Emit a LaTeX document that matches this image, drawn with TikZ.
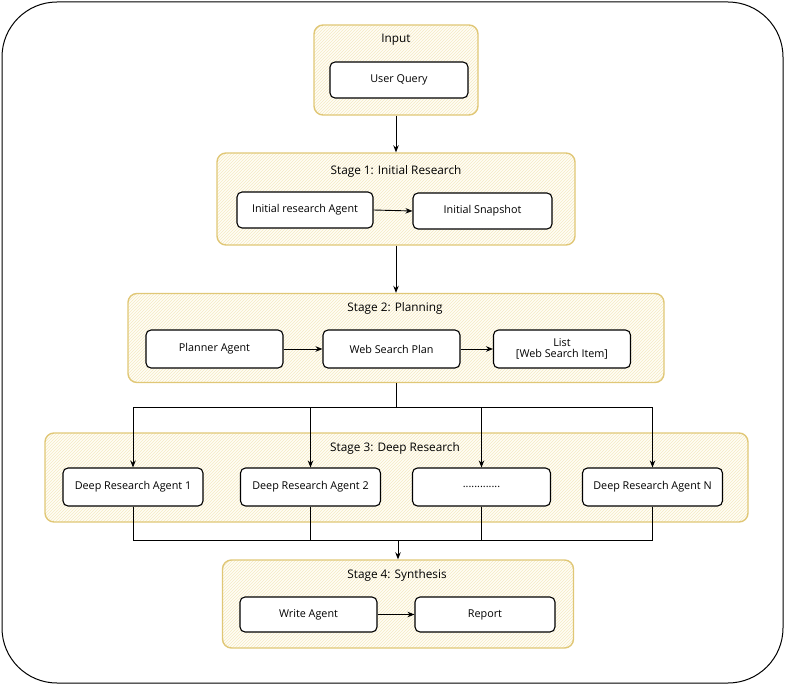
\documentclass[tikz,border=0pt]{standalone}
\usepackage{fontspec}
\setmainfont{Open Sans}
\usetikzlibrary{arrows.meta,patterns}
\definecolor{grpborder}{RGB}{224,199,118}
\definecolor{grpfill}{RGB}{255,253,246}
\definecolor{hatch}{RGB}{245,234,196}
\tikzset{
  group/.style={draw=grpborder, line width=1.4pt, rounded corners=9pt,
    preaction={fill=grpfill}, pattern=north east lines, pattern color=hatch,
    inner sep=0pt},
  card/.style={draw=black, line width=1.1pt, fill=white, rounded corners=5pt,
    inner sep=0pt, align=center, font=\fontsize{10.8}{13}\selectfont},
  title/.style={font=\fontsize{11.8}{14}\selectfont, inner sep=1pt},
  link/.style={draw=black, line width=0.9pt},
  arr/.style={link, -{Stealth[length=7pt,width=5.5pt]}},
}
\begin{document}
\begin{tikzpicture}[x=1pt,y=-1pt]
\useasboundingbox (0,0) rectangle (785,685);
\draw[line width=1pt, rounded corners=55pt] (2,2) rectangle (783,683);

% groups
\node[group, minimum width=164pt, minimum height=90pt] (ginput) at (396,70) {};
\node[group, minimum width=358pt, minimum height=92pt] (gs1) at (396,199) {};
\node[group, minimum width=536pt, minimum height=89pt] (gs2) at (396,338) {};
\node[group, minimum width=703pt, minimum height=89pt] (gs3) at (396.5,477.5) {};
\node[group, minimum width=351pt, minimum height=88pt] (gs4) at (398,604) {};

% titles
\node[title] (tinput) at (396,40) {Input};
\node[title] (ts1) at (396,171) {Stage 1: Initial Research};
\node[title] (ts2) at (395,308) {Stage 2: Planning};
\node[title] (ts3) at (395,448) {Stage 3: Deep Research};
\node[title] (ts4) at (397,575) {Stage 4: Synthesis};

% cards
\node[card, minimum width=138pt, minimum height=36pt] (uq) at (399,80) {User Query};
\node[card, minimum width=136pt, minimum height=36pt] (ira) at (305,210) {Initial research Agent};
\node[card, minimum width=139pt, minimum height=36pt] (snap) at (482.5,211) {Initial Snapshot};
\node[card, minimum width=137pt, minimum height=38pt] (plan) at (214.5,349) {Planner Agent};
\node[card, minimum width=137pt, minimum height=38pt] (wsp) at (391.5,349) {Web Search Plan};
\node[card, minimum width=137pt, minimum height=38pt] (list) at (562,349) {List\\[-2pt]{[}Web Search Item{]}};
\node[card, minimum width=140pt, minimum height=38pt] (dra1) at (133,487) {Deep Research Agent 1};
\node[card, minimum width=140pt, minimum height=38pt] (dra2) at (310.5,487) {Deep Research Agent 2};
\node[card, minimum width=138pt, minimum height=38pt] (dots) at (481.5,487) {.............};
\node[card, minimum width=140pt, minimum height=38pt] (dran) at (652.5,487) {Deep Research Agent N};
\node[card, minimum width=137pt, minimum height=35pt] (write) at (308.5,614.5) {Write Agent};
\node[card, minimum width=140pt, minimum height=35pt] (report) at (485,614.5) {Report};

% connectors
\draw[arr] (ginput.south) -- (gs1.north);
\draw[arr] (gs1.south) -- (gs2.north);
\draw[arr] (ira.east) -- (snap.west);
\draw[arr] (plan.east) -- (wsp.west);
\draw[arr] (wsp.east) -- (list.west);
\draw[arr] (write.east) -- (report.west);

\coordinate (fan) at (396,407);
\coordinate (col) at (398,540);
\draw[link] (gs2.south) -- (fan);
\draw[arr] (fan) -| (dra1.north);
\draw[arr] (fan) -| (dra2.north);
\draw[arr] (fan) -| (dots.north);
\draw[arr] (fan) -| (dran.north);
\draw[link] (dra1.south) |- (col);
\draw[link] (dra2.south) |- (col);
\draw[link] (dots.south) |- (col);
\draw[link] (dran.south) |- (col);
\draw[arr] (col) -- (gs4.north);
\end{tikzpicture}
\end{document}
